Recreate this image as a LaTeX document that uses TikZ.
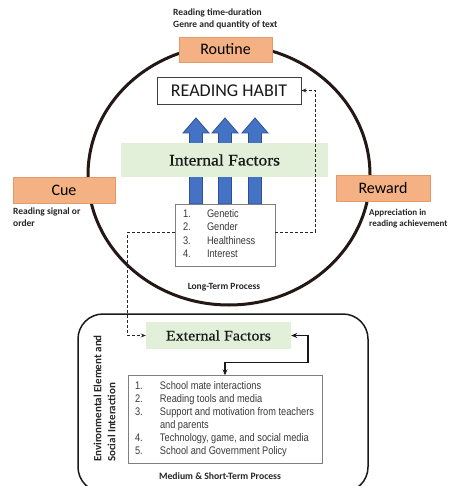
\documentclass[tikz,border=0pt]{standalone}
\usepackage{fontspec}
\setsansfont{Carlito}
\newfontfamily\narrowf[FakeStretch=0.84]{Liberation Sans}
\newfontfamily\factorf[FakeStretch=1.1,FakeBold=0.7]{Liberation Serif}
\usetikzlibrary{arrows.meta}
\definecolor{orfill}{HTML}{F4B183}
\definecolor{ordraw}{HTML}{E39A68}
\definecolor{grfill}{HTML}{E2EFD9}
\definecolor{blfill}{HTML}{4472C4}
\definecolor{bldraw}{HTML}{2F528F}
\definecolor{ringc}{HTML}{231815}
\definecolor{listtxt}{HTML}{3A3A3A}
\definecolor{boxline}{HTML}{7F7F7F}
\begin{document}
\begin{tikzpicture}[x=1pt,y=-1pt,
  orbox/.style={draw=ordraw, fill=orfill, line width=0.8pt, minimum width=#1, minimum height=26pt, inner sep=0pt, font=\sffamily\fontsize{16}{18}\selectfont},
  grbox/.style={fill=grfill, draw=none, inner sep=0pt, text=black!90},
  listbox/.style={draw=boxline, fill=white, line width=0.8pt, inner ysep=4pt, text=listtxt, font=\narrowf\fontsize{11}{13.4}\selectfont},
  smalllbl/.style={inner sep=0pt, align=left, font=\sffamily\bfseries\fontsize{9.5}{11.8}\selectfont, text=black!85},
  dashline/.style={line width=0.9pt, dash pattern=on 3pt off 2pt, black!85},
  blarrow/.style={fill=blfill, draw=bldraw, line width=0.8pt}
]
\useasboundingbox (0,0) rectangle (451,486);
\fill[white] (0,0) rectangle (451,486);

% ring
\draw[ringc, line width=3pt] (229,175) ellipse [x radius=141, y radius=130];

% bottom rounded frame
\draw[black!90, line width=1.5pt, rounded corners=25pt] (78,314) rectangle (368,492);

% blue block arrows
\foreach \c in {196,225,255}{
  \draw[blarrow] (\c-6.5,204) -- (\c-6.5,133) -- (\c-13,133) -- (\c,118) -- (\c+13,133) -- (\c+6.5,133) -- (\c+6.5,204) -- cycle;
}

% top labels and boxes
\node[smalllbl, anchor=west] (rtl) at (173,19) {Reading time-duration\\Genre and quantity of text};
\node[orbox=93pt, minimum height=25pt] (rt) at (225.5,49.5) {Routine};
\node[draw=black!75, fill=white, line width=0.8pt, minimum width=144pt, minimum height=27pt, inner sep=0pt, text=black!90, font=\sffamily\fontsize{18}{20}\selectfont] (rh) at (229,90.5) {READING HABIT};

\node[grbox, minimum width=207pt, minimum height=34pt, font=\factorf\fontsize{16}{18}\selectfont] (inf) at (224.5,160) {Internal Factors};

\node[orbox=102pt] (cue) at (64,190) {Cue};
\node[smalllbl, anchor=west] (cuel) at (13,217.5) {Reading signal or\\order};
\node[orbox=94pt] (rw) at (383,188) {Reward};
\node[smalllbl, anchor=west, font=\sffamily\bfseries\fontsize{9}{11.2}\selectfont] (rwl) at (369,218.5) {Appreciation in\\reading achievement};

\node[listbox, minimum width=100pt, minimum height=62pt, inner xsep=8pt] (il) at (225,235)
  {\begin{tabular}{@{}p{24pt}@{}p{60pt}@{}}1.&Genetic\\2.&Gender\\3.&Healthiness\\4.&Interest\end{tabular}};

\node[smalllbl] (ltp) at (224,287) {Long-Term Process};

% external part
\node[grbox, minimum width=145pt, minimum height=27pt, font=\factorf\fontsize{14.5}{16}\selectfont] (ef) at (218.5,335.5) {External Factors};
\node[listbox, minimum width=194pt, minimum height=87pt, inner xsep=7pt, inner ysep=4.5pt, font=\narrowf\fontsize{11}{13.1}\selectfont] (el) at (225,419.5)
  {\begin{tabular}{@{}p{25pt}@{}p{155pt}@{}}1.&School mate interactions\\2.&Reading tools and media\\3.&Support and motivation from teachers\\&and parents\\4.&Technology, game, and social media\\5.&School and Government Policy\end{tabular}};

\node[rotate=90, anchor=west, align=left, inner sep=0pt, text=black!85, font=\sffamily\bfseries\fontsize{11}{14}\selectfont] (env) at (104.5,462) {Environmental Element and\\Social Interaction};
\node[smalllbl, font=\sffamily\bfseries\fontsize{9.7}{11}\selectfont] (mst) at (220,476) {Medium \& Short-Term Process};

% connectors
\draw[dashline, -{Stealth[length=5pt,width=4pt]}] ([yshift=3pt]il.east) -- ++(40,0) |- (rh.east);
\draw[dashline, -{Stealth[length=5pt,width=4pt]}] ([yshift=3pt]il.west) -- ++(-47,0) |- (ef.west);
\draw[black!90, line width=1.5pt, {Stealth[length=6pt,width=5pt]}-{Stealth[length=6pt,width=5pt]}] (ef.east) -- ++(17,0) |- ([yshift=13pt]el.north) -- (el.north);
\end{tikzpicture}
\end{document}
